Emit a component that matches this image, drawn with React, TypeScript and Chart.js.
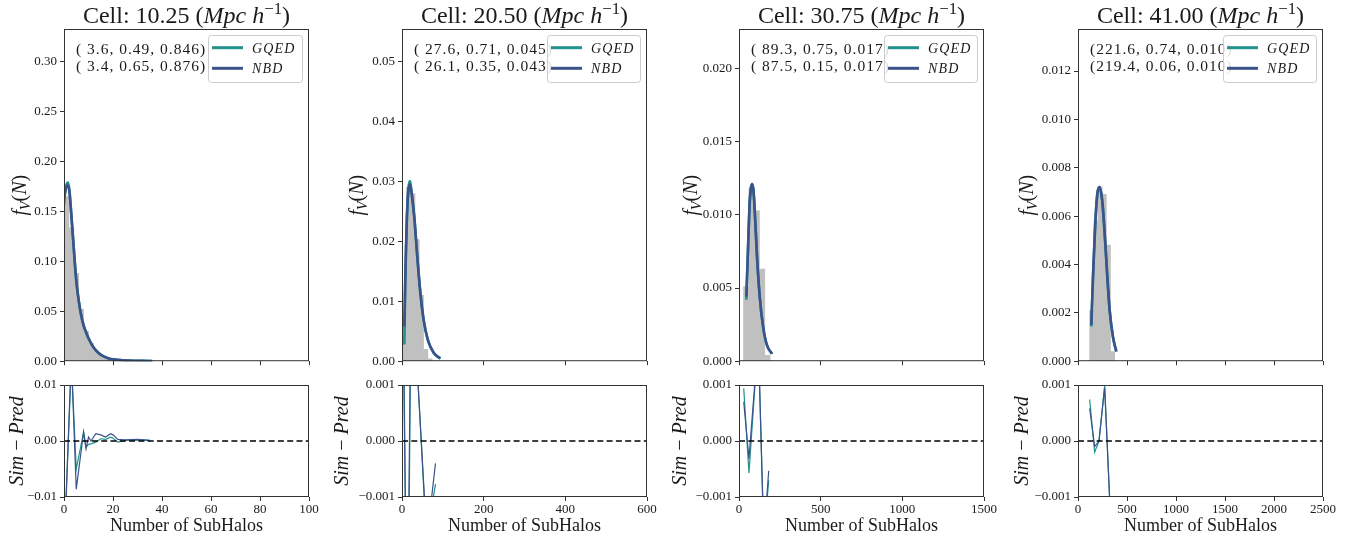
import React, { useEffect, useRef } from 'react';
import { Chart, registerables } from 'chart.js';

Chart.register(...registerables);

const SERIF = "'Liberation Serif', 'Times New Roman', serif";
const GQED_COLOR = '#21918c';
const NBD_COLOR = '#3b528b';
const HIST_COLOR = '#c0c0c0';
const INK = '#1a1a1a';

Chart.defaults.font.family = SERIF;
Chart.defaults.color = INK;

// ---------------- data ----------------
const cellSizes = ['10.25', '20.50', '30.75', '41.00'];
const paramsGQED = ['( 3.6, 0.49, 0.846)', '( 27.6, 0.71, 0.045)', '( 89.3, 0.75, 0.017)', '(221.6, 0.74, 0.010)'];
const paramsNBD = ['( 3.4, 0.65, 0.876)', '( 26.1, 0.35, 0.043)', '( 87.5, 0.15, 0.017)', '(219.4, 0.06, 0.010)'];

const xMax = [100, 600, 1500, 2500];
const xStep = [20, 200, 500, 500];
const topMax = [0.333, 0.0555, 0.0227, 0.01374];
const topStep = [0.05, 0.01, 0.005, 0.002];
const topDecimals = [2, 2, 3, 3];
const resMax = [0.01, 0.001, 0.001, 0.001];
const resDecimals = [2, 3, 3, 3];

// simulated histograms (bin centres, heights)
const hist1X = [1, 3, 5, 7, 9, 11, 13, 15, 17, 19, 21, 23, 25, 27, 29, 31, 33, 35];
const hist1Y = [0.165, 0.134, 0.088, 0.052, 0.030, 0.018, 0.010, 0.006, 0.0035, 0.002, 0.0012, 0.0007, 0.0004, 0.0003, 0.0002, 0.00015, 0.0001, 0.00005];
const hist2X = [5.5, 16, 26.5, 37, 47.5, 58, 68.5];
const hist2Y = [0.008, 0.029, 0.028, 0.0203, 0.011, 0.002, 0.0004];
const hist3X = [44.25, 76.75, 109.25, 141.75, 174.25];
const hist3Y = [0.0051, 0.0118, 0.0103, 0.0063, 0.0004];
const hist4X = [140.25, 182.75, 225.25, 267.75, 310.25, 352.75];
const hist4Y = [0.0021, 0.0058, 0.0072, 0.0069, 0.0048, 0.0004];

// model curves
const curve1X = [0, 0.5, 1, 1.6, 2.2, 3, 4, 5, 6, 7, 8, 9, 10, 12, 14, 16, 18, 20, 24, 28, 32, 36];
const curve1GQED = [0.157, 0.170, 0.177, 0.179, 0.172, 0.147, 0.113, 0.081, 0.061, 0.046, 0.036, 0.029, 0.023, 0.014, 0.0085, 0.005, 0.003, 0.0018, 0.0008, 0.0005, 0.0003, 0.0002];
const curve1NBD = [0.162, 0.170, 0.175, 0.176, 0.170, 0.146, 0.113, 0.081, 0.061, 0.046, 0.036, 0.029, 0.023, 0.014, 0.0085, 0.005, 0.003, 0.0018, 0.0008, 0.0005, 0.0003, 0.0002];
const curve2X = [5.7, 8, 10, 12, 15.5, 19.6, 24, 30, 38, 45, 53, 63, 77.5, 94];
const curve2GQED = [0.0028, 0.013, 0.019, 0.024, 0.0288, 0.0301, 0.028, 0.0242, 0.017, 0.0114, 0.0069, 0.0036, 0.0014, 0.0004];
const curve2NBD = [0.0058, 0.014, 0.0195, 0.024, 0.0283, 0.0295, 0.0278, 0.0241, 0.017, 0.0114, 0.0069, 0.0036, 0.0014, 0.0005];
const curve3X = [45, 55, 65, 72, 80, 87, 94, 110, 127, 147, 171, 202];
const curve3GQED = [0.0042, 0.0076, 0.0108, 0.0118, 0.0121, 0.0118, 0.0108, 0.0072, 0.0044, 0.0024, 0.0011, 0.0005];
const curve3NBD = [0.0044, 0.0076, 0.0107, 0.0117, 0.0121, 0.0118, 0.0108, 0.0072, 0.0044, 0.0024, 0.0011, 0.0005];
const curve4X = [136, 153, 173, 194, 221, 248, 272, 299, 323, 357, 391];
const curve4GQED = [0.00144, 0.0035, 0.0054, 0.0068, 0.0072, 0.0066, 0.0053, 0.0035, 0.0021, 0.0010, 0.0004];
const curve4NBD = [0.0015, 0.0035, 0.0054, 0.0068, 0.0072, 0.0066, 0.0053, 0.0035, 0.0021, 0.0010, 0.0004];

// residuals Sim - Pred
const res1X = [0, 3, 5, 8, 9, 10, 11, 13, 15, 17, 19, 20, 22, 25, 30, 35];
const res1GQED = [-0.02, 0.014, -0.005, 0.0016, -0.0011, -0.0006, -0.0005, -0.0002, 0.0004, 0.0003, 0.0007, 0.0005, -0.0002, 0.0001, 0.0002, 0.0001];
const res1NBD = [-0.02, 0.015, -0.0086, 0.0016, -0.0014, 0.0007, 0.0, 0.0013, 0.0011, 0.0007, 0.0013, 0.0011, 0.0003, 0.0002, 0.0003, 0.0001];
const res2X = [3, 13, 25, 38, 58, 68, 82];
const res2GQED = [0.003, -0.005, 0.005, 0.0012, -0.0015, -0.0014, -0.00077];
const res2NBD = [0.002, -0.004, 0.005, 0.0012, -0.0014, -0.0013, -0.0004];
const res3X = [29, 61, 112, 125, 150, 165, 182];
const res3GQED = [0.00094, -0.00057, 0.0016, 0.0011, -0.0016, -0.0013, -0.0007];
const res3NBD = [0.0007, -0.00032, 0.0016, 0.0011, -0.0015, -0.0012, -0.00053];
const res4X = [119, 170, 214, 272, 345];
const res4GQED = [0.00074, -0.0002, 0.0, 0.00099, -0.0019];
const res4NBD = [0.00058, -0.0001, 0.0, 0.00095, -0.0019];

const histX = [hist1X, hist2X, hist3X, hist4X];
const histY = [hist1Y, hist2Y, hist3Y, hist4Y];
const curveX = [curve1X, curve2X, curve3X, curve4X];
const curveGQED = [curve1GQED, curve2GQED, curve3GQED, curve4GQED];
const curveNBD = [curve1NBD, curve2NBD, curve3NBD, curve4NBD];
const resX = [res1X, res2X, res3X, res4X];
const resGQED = [res1GQED, res2GQED, res3GQED, res4GQED];
const resNBD = [res1NBD, res2NBD, res3NBD, res4NBD];

// ---------------- layout ----------------
const PLOT_LEFT = [64, 402, 739, 1078];
const PLOT_W = 245;
const AXIS_W = 72;
const RIGHT_PAD = 20;
const TOP_CANVAS_H = 372;
const TOP_PAD = 29;
const TOP_XAXIS_H = 10;
const BOT_CANVAS_TOP = 373;
const BOT_CANVAS_H = 166;
const BOT_PAD = 12;
const BOT_XAXIS_H = 42;
const YLABEL_OFF_TOP = [44, 45, 48, 51];
const YLABEL_OFF_BOT = [47, 60, 59, 56];
const TICK_SIZE = 13;

// ---------------- helpers ----------------
type Seg = { t: string; it?: boolean; sc?: number; dy?: number };

function segFont(s: Seg, size: number) {
  return `${s.it ? 'italic ' : ''}${(size * (s.sc ?? 1)).toFixed(1)}px ${SERIF}`;
}

function drawRich(ctx: CanvasRenderingContext2D, segs: Seg[], x: number, y: number, size: number, align: 'left' | 'center') {
  ctx.textAlign = 'left';
  let w = 0;
  for (const s of segs) {
    ctx.font = segFont(s, size);
    w += ctx.measureText(s.t).width;
  }
  let cx = align === 'center' ? x - w / 2 : x;
  for (const s of segs) {
    ctx.font = segFont(s, size);
    ctx.fillText(s.t, cx, y + (s.dy ?? 0));
    cx += ctx.measureText(s.t).width;
  }
}

function roundRect(ctx: CanvasRenderingContext2D, x: number, y: number, w: number, h: number, r: number) {
  ctx.beginPath();
  ctx.moveTo(x + r, y);
  ctx.lineTo(x + w - r, y);
  ctx.quadraticCurveTo(x + w, y, x + w, y + r);
  ctx.lineTo(x + w, y + h - r);
  ctx.quadraticCurveTo(x + w, y + h, x + w - r, y + h);
  ctx.lineTo(x + r, y + h);
  ctx.quadraticCurveTo(x, y + h, x, y + h - r);
  ctx.lineTo(x, y + r);
  ctx.quadraticCurveTo(x, y, x + r, y);
  ctx.closePath();
}

const decorPlugin = {
  id: 'decor',
  afterDraw(chart: any, _args: any, opts: any) {
    const ctx: CanvasRenderingContext2D = chart.ctx;
    const a = chart.chartArea;
    ctx.save();
    // frame (all four spines)
    ctx.strokeStyle = '#333';
    ctx.lineWidth = 1;
    ctx.strokeRect(a.left + 0.5, a.top + 0.5, a.right - a.left - 1, a.bottom - a.top - 1);
    ctx.fillStyle = INK;
    ctx.textBaseline = 'alphabetic';

    if (opts.title) {
      drawRich(ctx, opts.title, (a.left + a.right) / 2, opts.titleY, 24, 'center');
    }
    if (opts.ylabel) {
      ctx.save();
      ctx.translate(a.left - opts.ylabelOff, (a.top + a.bottom) / 2);
      ctx.rotate(-Math.PI / 2);
      drawRich(ctx, opts.ylabel, 0, 6, 20, 'center');
      ctx.restore();
    }
    if (opts.params) {
      ctx.save();
      (ctx as any).letterSpacing = '1px';
      ctx.font = `15.5px ${SERIF}`;
      ctx.textAlign = 'left';
      ctx.fillText(opts.params[0], a.left + 12, 54);
      ctx.fillText(opts.params[1], a.left + 12, 71);
      ctx.restore();
    }
    if (opts.legend) {
      const bw = opts.legendW;
      const bh = 47;
      const bx = a.right - 7 - bw;
      const by = a.top + 6;
      roundRect(ctx, bx + 0.5, by + 0.5, bw, bh, 3);
      ctx.fillStyle = 'rgba(255,255,255,0.85)';
      ctx.fill();
      ctx.strokeStyle = '#cccccc';
      ctx.lineWidth = 1;
      ctx.stroke();
      const items = [
        { label: 'GQED', color: GQED_COLOR, y: by + 12.7 },
        { label: 'NBD', color: NBD_COLOR, y: by + 33.3 },
      ];
      for (const it of items) {
        ctx.strokeStyle = it.color;
        ctx.lineWidth = 3;
        ctx.beginPath();
        ctx.moveTo(bx + 4, it.y);
        ctx.lineTo(bx + 35, it.y);
        ctx.stroke();
        ctx.save();
        (ctx as any).letterSpacing = '1.2px';
        ctx.fillStyle = INK;
        ctx.font = `italic 14px ${SERIF}`;
        ctx.textAlign = 'left';
        ctx.fillText(it.label, bx + 44, it.y + 5);
        ctx.restore();
      }
    }
    ctx.restore();
  },
};

function fmt(d: number) {
  return (v: any) => {
    const n = Number(v);
    return (Math.abs(n) < 1e-12 ? 0 : n).toFixed(d).replace('-', '\u2212');
  };
}

function pts(xs: number[], ys: number[]) {
  return xs.map((x, i) => ({ x, y: ys[i] }));
}

const gridStyle = { drawOnChartArea: false, drawTicks: true, tickLength: 4, color: '#333', lineWidth: 1, offset: false };

function topConfig(c: number): any {
  return {
    type: 'line',
    data: {
      datasets: [
        {
          type: 'line', label: 'NBD', data: pts(curveX[c], curveNBD[c]),
          borderColor: NBD_COLOR, borderWidth: 2.6, pointRadius: 0,
          cubicInterpolationMode: 'monotone', order: 1,
        },
        {
          type: 'line', label: 'GQED', data: pts(curveX[c], curveGQED[c]),
          borderColor: GQED_COLOR, borderWidth: 2.6, pointRadius: 0,
          cubicInterpolationMode: 'monotone', order: 2,
        },
        {
          type: 'bar', label: 'Sim', data: pts(histX[c], histY[c]),
          backgroundColor: HIST_COLOR, borderWidth: 0,
          barPercentage: 1, categoryPercentage: 1, order: 3,
        },
      ],
    },
    options: {
      animation: false,
      responsive: false,
      devicePixelRatio: 1,
      layout: { padding: { top: TOP_PAD, right: RIGHT_PAD, left: 0, bottom: 0 } },
      plugins: {
        legend: { display: false },
        tooltip: { enabled: false },
        decor: {
          title: [
            { t: `Cell: ${cellSizes[c]} (` },
            { t: 'Mpc h', it: true },
            { t: '\u22121', sc: 0.7, dy: -9 },
            { t: ')' },
          ],
          titleY: 23,
          ylabel: [
            { t: 'f', it: true },
            { t: 'V', it: true, sc: 0.7, dy: 4 },
            { t: '(' },
            { t: 'N', it: true },
            { t: ')' },
          ],
          ylabelOff: YLABEL_OFF_TOP[c],
          params: [paramsGQED[c], paramsNBD[c]],
          legend: true,
          legendW: c === 0 ? 94 : 93,
        },
      },
      scales: {
        x: {
          type: 'linear', min: 0, max: xMax[c], offset: false,
          grid: gridStyle, border: { display: false },
          ticks: { display: false, stepSize: xStep[c] },
          afterFit: (s: any) => { s.height = TOP_XAXIS_H; },
        },
        y: {
          type: 'linear', min: 0, max: topMax[c],
          grid: gridStyle, border: { display: false },
          ticks: {
            stepSize: topStep[c], includeBounds: false, callback: fmt(topDecimals[c]),
            font: { size: TICK_SIZE, family: SERIF }, color: INK, padding: 3,
          },
          afterFit: (s: any) => { s.width = AXIS_W; },
        },
      },
    },
    plugins: [decorPlugin],
  };
}

function bottomConfig(c: number): any {
  return {
    type: 'line',
    data: {
      datasets: [
        {
          type: 'line', label: 'zero', data: [{ x: 0, y: 0 }, { x: xMax[c], y: 0 }],
          borderColor: '#000', borderWidth: 1.5, borderDash: [6, 3.3], pointRadius: 0, order: 0,
        },
        {
          type: 'line', label: 'NBD', data: pts(resX[c], resNBD[c]),
          borderColor: NBD_COLOR, borderWidth: 1.2, pointRadius: 0, tension: 0, order: 1,
        },
        {
          type: 'line', label: 'GQED', data: pts(resX[c], resGQED[c]),
          borderColor: GQED_COLOR, borderWidth: 1.2, pointRadius: 0, tension: 0, order: 2,
        },
      ],
    },
    options: {
      animation: false,
      responsive: false,
      devicePixelRatio: 1,
      layout: { padding: { top: BOT_PAD, right: RIGHT_PAD, left: 0, bottom: 0 } },
      plugins: {
        legend: { display: false },
        tooltip: { enabled: false },
        decor: {
          ylabel: [
            { t: 'Sim', it: true },
            { t: ' \u2212 ' },
            { t: 'Pred', it: true },
          ],
          ylabelOff: YLABEL_OFF_BOT[c],
        },
      },
      scales: {
        x: {
          type: 'linear', min: 0, max: xMax[c], offset: false,
          grid: gridStyle, border: { display: false },
          ticks: {
            stepSize: xStep[c], autoSkip: false, maxRotation: 0, minRotation: 0,
            callback: (v: any) => String(Math.round(Number(v))),
            font: { size: TICK_SIZE, family: SERIF }, color: INK, padding: 1,
          },
          title: {
            display: true, text: 'Number of SubHalos', color: INK,
            font: { size: 18, family: SERIF }, padding: { top: 0, bottom: 2 },
          },
          afterFit: (s: any) => { s.height = BOT_XAXIS_H; },
        },
        y: {
          type: 'linear', min: -resMax[c], max: resMax[c],
          grid: gridStyle, border: { display: false },
          ticks: {
            stepSize: resMax[c], includeBounds: false, callback: fmt(resDecimals[c]),
            font: { size: TICK_SIZE, family: SERIF }, color: INK, padding: 3,
          },
          afterFit: (s: any) => { s.width = AXIS_W; },
        },
      },
    },
    plugins: [decorPlugin],
  };
}

function ChartCanvas(props: { left: number; top: number; width: number; height: number; build: () => any }) {
  const ref = useRef<HTMLCanvasElement>(null);
  useEffect(() => {
    if (!ref.current) return;
    const chart = new Chart(ref.current, props.build());
    return () => chart.destroy();
  }, []);
  return (
    <canvas
      ref={ref}
      width={props.width}
      height={props.height}
      style={{ position: 'absolute', left: props.left, top: props.top, width: props.width, height: props.height }}
    />
  );
}

export default function App() {
  const w = AXIS_W + PLOT_W + RIGHT_PAD;
  return (
    <div style={{ position: 'fixed', left: 0, top: 0, width: 1368, height: 539, background: '#fff', overflow: 'hidden' }}>
      {[0, 1, 2, 3].map((c) => (
        <React.Fragment key={c}>
          <ChartCanvas left={PLOT_LEFT[c] - AXIS_W} top={0} width={w} height={TOP_CANVAS_H} build={() => topConfig(c)} />
          <ChartCanvas left={PLOT_LEFT[c] - AXIS_W} top={BOT_CANVAS_TOP} width={w} height={BOT_CANVAS_H} build={() => bottomConfig(c)} />
        </React.Fragment>
      ))}
    </div>
  );
}
